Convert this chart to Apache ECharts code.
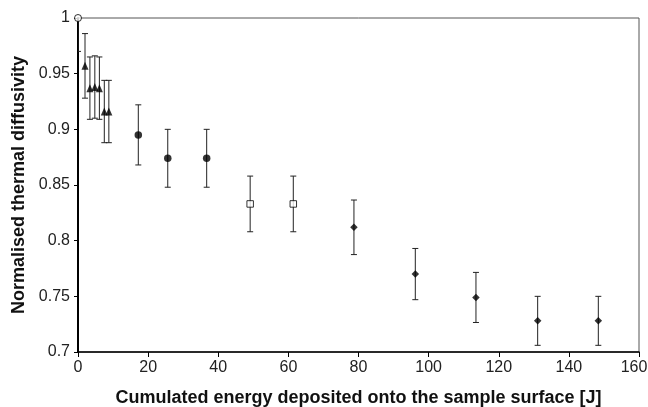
<!DOCTYPE html>
<html>
<head>
<meta charset="utf-8">
<script src="https://cdn.jsdelivr.net/npm/echarts@6/dist/echarts.min.js"></script>
<style>
  html, body { margin: 0; padding: 0; background: #fff; }
  #chart { width: 648px; height: 407px; }
</style>
</head>
<body>
<div id="chart"></div>
<script>
// cumulated energy [J], normalised diffusivity, +/- error
const openCircleX = [0]
const openCircleY = [1]
const openCircleErr = [0.03]

const triangleX = [2.0, 3.4, 4.8, 6.1, 7.5, 8.8]
const triangleY = [0.957, 0.937, 0.938, 0.937, 0.916, 0.916]
const triangleErr = [0.029, 0.028, 0.028, 0.028, 0.028, 0.028]

const circleX = [17.2, 25.6, 36.7]
const circleY = [0.895, 0.874, 0.874]
const circleErr = [0.027, 0.026, 0.026]

const squareX = [49.1, 61.4]
const squareY = [0.833, 0.833]
const squareErr = [0.025, 0.025]

const diamondX = [78.7, 96.2, 113.5, 131.1, 148.4]
const diamondY = [0.812, 0.770, 0.749, 0.728, 0.728]
const diamondErr = [0.0245, 0.023, 0.0225, 0.022, 0.022]

const groups = [
  { x: openCircleX, y: openCircleY, err: openCircleErr, symbol: 'circle', size: 7, fill: '#fff' },
  { x: triangleX, y: triangleY, err: triangleErr, symbol: 'triangle', size: [7, 8], fill: '#000' },
  { x: circleX, y: circleY, err: circleErr, symbol: 'circle', size: 7.5, fill: '#000' },
  { x: squareX, y: squareY, err: squareErr, symbol: 'rect', size: 6.5, fill: '#fff' },
  { x: diamondX, y: diamondY, err: diamondErr, symbol: 'diamond', size: 7.5, fill: '#000' }
]

function renderErr(params, api) {
  const x = api.value(0)
  const top = api.coord([x, api.value(2)])
  const bot = api.coord([x, api.value(1)])
  const w = 3
  const style = { stroke: '#222', lineWidth: 1 }
  return {
    type: 'group',
    children: [
      { type: 'line', shape: { x1: top[0], y1: top[1], x2: bot[0], y2: bot[1] }, style },
      { type: 'line', shape: { x1: top[0] - w, y1: top[1], x2: top[0] + w, y2: top[1] }, style },
      { type: 'line', shape: { x1: bot[0] - w, y1: bot[1], x2: bot[0] + w, y2: bot[1] }, style }
    ]
  }
}

const series = []
groups.forEach(g => {
  series.push({
    type: 'custom',
    renderItem: renderErr,
    clip: true,
    data: g.x.map((v, i) => [v, g.y[i] - g.err[i], g.y[i] + g.err[i]]),
    z: 2
  })
})
groups.forEach(g => {
  series.push({
    type: 'scatter',
    symbol: g.symbol,
    symbolSize: g.size,
    data: g.x.map((v, i) => [v, g.y[i]]),
    itemStyle: { color: g.fill, borderColor: '#000', borderWidth: g.fill === '#fff' ? 1 : 0 },
    z: 3
  })
})

const chart = echarts.init(document.getElementById('chart'))
chart.setOption({
  animation: false,
  textStyle: { fontFamily: 'Liberation Sans, Arial, sans-serif' },
  grid: {
    left: 78, right: 9, top: 18, bottom: 55,
    outerBoundsMode: 'none',
    show: true, borderColor: '#555', borderWidth: 1
  },
  xAxis: {
    type: 'value',
    min: 0,
    max: 160,
    interval: 20,
    name: 'Cumulated energy deposited onto the sample surface [J]',
    nameLocation: 'middle',
    nameGap: 37,
    nameTextStyle: { fontSize: 18, fontWeight: 'bold', color: '#111' },
    axisLine: { lineStyle: { color: '#000', width: 1.5 } },
    axisTick: { length: 5, lineStyle: { color: '#000' } },
    axisLabel: {
      fontSize: 16, color: '#222', margin: 8,
      // last label sits a little left of its tick so it stays inside the picture
      formatter: v => v === 160 ? '{last|' + v + '}' : String(v),
      rich: { last: { fontSize: 16, color: '#222', padding: [0, 10, 0, 0] } }
    },
    splitLine: { show: false }
  },
  yAxis: {
    type: 'value',
    min: 0.7,
    max: 1,
    interval: 0.05,
    name: 'Normalised thermal diffusivity',
    nameLocation: 'middle',
    nameGap: 48,
    nameTextStyle: { fontSize: 18, fontWeight: 'bold', color: '#111' },
    axisLine: { show: true, lineStyle: { color: '#000', width: 2 } },
    axisTick: { show: true, length: 4, lineStyle: { color: '#000' } },
    axisLabel: { fontSize: 16, color: '#222', margin: 8 },
    splitLine: { show: false }
  },
  series: series
})
</script>
</body>
</html>
